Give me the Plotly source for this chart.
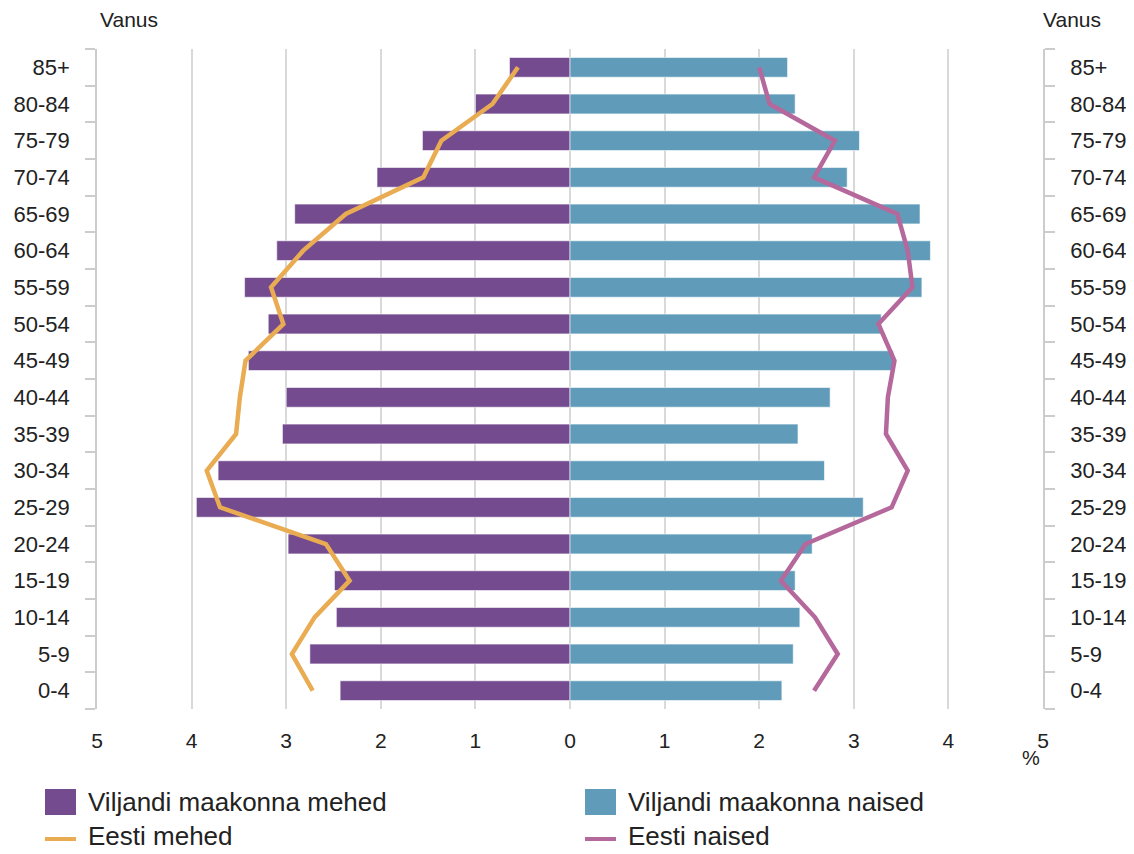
import plotly.graph_objects as go

ages = ["0-4", "5-9", "10-14", "15-19", "20-24", "25-29", "30-34", "35-39", "40-44",
        "45-49", "50-54", "55-59", "60-64", "65-69", "70-74", "75-79", "80-84", "85+"]

viljandi_mehed = [2.43, 2.75, 2.47, 2.49, 2.98, 3.95, 3.72, 3.04, 3.00,
                  3.40, 3.19, 3.44, 3.10, 2.91, 2.04, 1.56, 1.00, 0.64]
viljandi_naised = [2.24, 2.36, 2.43, 2.38, 2.56, 3.10, 2.69, 2.41, 2.75,
                   3.42, 3.29, 3.72, 3.81, 3.70, 2.93, 3.06, 2.38, 2.30]
eesti_mehed = [2.72, 2.94, 2.70, 2.33, 2.58, 3.70, 3.84, 3.53, 3.49,
               3.43, 3.03, 3.16, 2.82, 2.37, 1.55, 1.36, 0.82, 0.55]
eesti_naised = [2.58, 2.83, 2.59, 2.23, 2.49, 3.40, 3.57, 3.34, 3.36,
                3.43, 3.26, 3.62, 3.57, 3.46, 2.58, 2.80, 2.11, 2.00]

x_tickvals = [-5, -4, -3, -2, -1, 0, 1, 2, 3, 4, 5]
x_ticktext = ["5", "4", "3", "2", "1", "0", "1", "2", "3", "4", "5"]

legend_names = ["Viljandi maakonna mehed", "Viljandi maakonna naised", "Eesti mehed", "Eesti naised"]

PURPLE = "#734B8E"
BLUE = "#609CBA"
ORANGE = "#E9AC52"
PINK = "#B5689B"
TXT = "#222222"
GRID = "#D9D9D9"
FONT = "Liberation Sans, Arial, sans-serif"

# the page body adds an 8px offset; work in reference pixels and shift
OFF = 8
W, H = 1134 - OFF, 854 - OFF
L, T = 97 - OFF, 49 - OFF
R = W - (1043 - OFF)
B = H - (709 - OFF)
PW, PH = W - L - R, H - T - B


def px(x):
    return (x - OFF - L) / PW


def py(y):
    return (H - B - (y - OFF)) / PH


fig = go.Figure()
fig.add_trace(go.Bar(y=ages, x=[-v for v in viljandi_mehed], orientation="h",
                     marker=dict(color=PURPLE, line=dict(color="rgba(255,255,255,0.6)", width=1)),
                     name=legend_names[0], showlegend=False))
fig.add_trace(go.Bar(y=ages, x=viljandi_naised, orientation="h",
                     marker=dict(color=BLUE, line=dict(color="rgba(255,255,255,0.6)", width=1)),
                     name=legend_names[1], showlegend=False))
fig.add_trace(go.Scatter(y=ages, x=[-v for v in eesti_mehed], mode="lines",
                         line=dict(color=ORANGE, width=4.5), name=legend_names[2], showlegend=False))
fig.add_trace(go.Scatter(y=ages, x=eesti_naised, mode="lines",
                         line=dict(color=PINK, width=4.5), name=legend_names[3], showlegend=False))
# invisible helper so the right-hand age axis shows its categories
fig.add_trace(go.Scatter(y=ages, x=viljandi_naised, yaxis="y2", mode="markers",
                         marker=dict(opacity=0), hoverinfo="skip", showlegend=False))

axis_y = dict(type="category", categoryorder="array", categoryarray=ages, range=[-0.5, 17.5],
              showline=True, linecolor="#CCCCCC", linewidth=1.5, ticks="outside", tickson="boundaries",
              ticklen=10, tickcolor="#CCCCCC", tickwidth=1.5, showgrid=False, zeroline=False,
              tickfont=dict(size=22, color=TXT, family=FONT), ticklabelstandoff=21,
              fixedrange=True, automargin=False)

fig.update_layout(
    width=W, height=H,
    margin=dict(l=L, r=R, t=T, b=B),
    paper_bgcolor="white", plot_bgcolor="white",
    barmode="overlay", bargap=0.46,
    font=dict(family=FONT, color=TXT),
    xaxis=dict(range=[-5, 5], tickvals=x_tickvals, ticktext=x_ticktext, showgrid=True,
               gridcolor=GRID, gridwidth=1.5, zeroline=False, showline=False, ticks="",
               tickfont=dict(size=21, color=TXT, family=FONT), ticklabelstandoff=17,
               automargin=False),
    yaxis=dict(axis_y, side="left"),
    yaxis2=dict(axis_y, side="right", overlaying="y"),
    showlegend=False,
)

annotations = [
    dict(text="Vanus", x=px(129), y=py(20), xref="paper", yref="paper", showarrow=False,
         font=dict(size=21, color=TXT, family=FONT), xanchor="center", yanchor="middle"),
    dict(text="Vanus", x=px(1072), y=py(20), xref="paper", yref="paper", showarrow=False,
         font=dict(size=21, color=TXT, family=FONT), xanchor="center", yanchor="middle"),
    dict(text="%", x=px(1031), y=py(758), xref="paper", yref="paper", showarrow=False,
         font=dict(size=20, color=TXT, family=FONT), xanchor="center", yanchor="middle"),
]

shapes = []
leg_cols = [45, 585]
leg_rows = [802, 836]
items = [(legend_names[0], "bar", PURPLE, 0, 0), (legend_names[1], "bar", BLUE, 1, 0),
         (legend_names[2], "line", ORANGE, 0, 1), (legend_names[3], "line", PINK, 1, 1)]
for name, kind, col, ci, ri in items:
    x0 = leg_cols[ci]
    yc = leg_rows[ri]
    if kind == "bar":
        shapes.append(dict(type="rect", xref="paper", yref="paper", x0=px(x0), x1=px(x0 + 31),
                           y0=py(yc + 13), y1=py(yc - 13), fillcolor=col, line=dict(width=0)))
    else:
        shapes.append(dict(type="line", xref="paper", yref="paper", x0=px(x0), x1=px(x0 + 31),
                           y0=py(yc + 3), y1=py(yc + 3), line=dict(color=col, width=4)))
    annotations.append(dict(text=name, x=px(x0 + 41), y=py(yc), xref="paper", yref="paper",
                            showarrow=False, xanchor="left", yanchor="middle",
                            font=dict(size=26, color=TXT, family=FONT)))

fig.update_layout(annotations=annotations, shapes=shapes)
fig.write_html("out.html")
